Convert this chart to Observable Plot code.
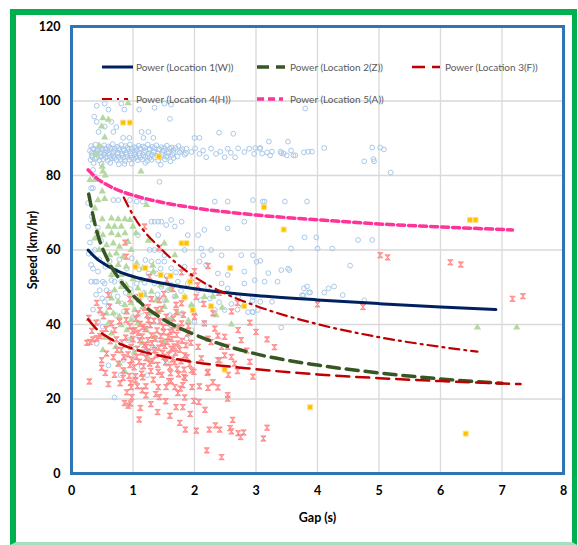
<!DOCTYPE html>
<html><head><meta charset="utf-8">
<script src="https://cdn.jsdelivr.net/npm/d3@7"></script>
<script src="https://cdn.jsdelivr.net/npm/@observablehq/plot@0.6"></script>
<style>
body{margin:0;background:#fff;}
#wrap{position:relative;width:578px;height:545px;overflow:hidden;background:#fff;}
#chart{position:absolute;left:0;top:0;}
#legend{position:absolute;left:0;top:0;pointer-events:none;}
#border{position:absolute;left:10px;top:9px;width:567px;height:536px;box-sizing:border-box;border:6px solid #00B050;border-right-width:5px;border-bottom:3px solid #A8E0BF;pointer-events:none;}
</style></head><body>
<div id="wrap"><div id="chart"></div><svg id="legend" width="578" height="545"></svg><div id="border"></div></div>
<script>
// ---- axis ticks ----
const xTicks = [0,1,2,3,4,5,6,7,8];
const yTicks = [0,20,40,60,80,100,120];

// ---- legend labels ----
const seriesNames = ["Power (Location 1(W))","Power (Location 2(Z))","Power (Location 3(F))","Power (Location 4(H))","Power (Location 5(A))"];

// ---- power trend lines (gap s, speed km/hr) ----
const trendWGap = [0.27,0.4,0.6,0.8,1,1.5,2,2.5,3,4,5,6,6.9];
const trendWSpeed = [60,57.8,55.6,54,52.9,51,49.6,48.6,47.8,46.6,45.6,44.7,44];
const trendZGap = [0.28,0.4,0.6,0.8,1,1.5,2,3,4,5,6,7];
const trendZSpeed = [75,65.7,57,51.7,47.8,41.3,37.3,32.1,29.1,27,25.4,24.2];
const trendFGap = [0.27,0.4,0.6,0.8,1,1.5,2,3,4,5,6,7.3];
const trendFSpeed = [41.4,38.9,36.5,34.7,33.5,31.4,29.9,28,26.6,25.6,24.8,24];
const trendHGap = [0.85,1,1.5,2,2.5,3,4,5,6,6.6];
const trendHSpeed = [74.1,69.4,59.6,52.8,48.3,45,40.1,36.6,34,32.7];
const trendAGap = [0.27,0.4,0.6,0.8,1,1.5,2,3,4,5,6,7.17];
const trendASpeed = [81.5,79.4,77.3,75.8,74.7,72.7,71.3,69.4,68.1,67,66.2,65.4];

// ---- observations [gap, speed] ----
const locA = [
[0.41,98.7],[0.54,99.3],[0.6,97.7],[0.81,99.3],[0.86,97.7],[1.1,97.7],[1.35,98.2],[1.51,99.3],[1.62,99],[1.6,95.2],[0.37,95.8],[0.41,94.4],[0.65,94.4],[0.54,93.1],[0.73,93],[0.44,91.7],[0.68,91.7],[0.84,90.1],[0.94,90.1],[1.14,91.7],[1.17,90.1],[1.25,91.7],[1.33,90.1],[2.0,90.1],[2.08,90.1],[2.4,91.5],[2.63,91.2],[0.86,83.1],[1.43,78.3],[3.8,98],[3.21,89.1],[3.52,89.1],[0.35,81.5],[0.38,79.7],[0.32,76.6],
[0.32,87.9],[0.39,88.3],[0.46,87.6],[0.53,88.1],[0.6,87.8],[0.67,88.4],[0.74,87.7],[0.81,88.2],[0.88,87.9],[0.95,88.3],[1.02,87.6],[1.09,88],[1.16,87.8],[1.24,88.3],[1.31,87.7],[1.38,88.1],[1.46,87.6],[1.55,88],[1.63,87.5],[1.74,87.9],
[0.35,87.3],[0.42,87.1],[0.49,87.4],[0.56,87.2],[0.63,87.5],[0.7,87.2],[0.77,87.4],[0.84,87.1],[0.91,87.5],[0.98,87.2],[1.05,87.4],[1.12,87.3],[1.19,87.5],[1.27,87.2],[1.35,87.4],[1.43,87.1],[1.51,87.4],[1.6,87.2],[1.69,87.4],[1.8,87.1],
[0.3,86.6],[0.36,87],[0.43,86.7],[0.5,86.9],[0.57,86.5],[0.64,87.1],[0.71,86.6],[0.78,86.9],[0.85,86.7],[0.92,87],[0.99,86.5],[1.06,86.8],[1.13,87.1],[1.2,86.6],[1.27,86.9],[1.34,86.5],[1.42,87],[1.5,86.7],[1.58,86.4],[1.66,86.9],[1.78,86.6],
[0.33,86.1],[0.4,86.3],[0.47,85.9],[0.54,86.2],[0.61,86],[0.68,86.3],[0.75,86.1],[0.82,85.9],[0.89,86.2],[0.96,86],[1.03,86.3],[1.1,86],[1.18,86.2],[1.25,85.9],[1.33,86.2],[1.4,86],[1.48,86.3],[1.57,85.9],[1.66,86.1],[1.76,86.2],[1.86,86],
[0.33,85.4],[0.4,85.7],[0.47,85.3],[0.54,85.6],[0.61,85.5],[0.68,85.2],[0.75,85.8],[0.82,85.4],[0.89,85.6],[0.96,85.3],[1.03,85.7],[1.1,85.4],[1.17,85.5],[1.24,85.2],[1.31,85.6],[1.39,85.3],[1.47,85.7],[1.56,85.2],[1.64,85.5],[1.72,85.1],[1.84,85.6],
[0.34,84.9],[0.41,84.7],[0.48,85],[0.56,84.8],[0.63,85],[0.7,84.7],[0.77,85],[0.84,84.8],[0.91,85],[0.98,84.7],[1.05,84.9],[1.12,84.8],[1.2,85],[1.27,84.7],[1.35,84.9],[1.44,84.8],[1.54,85],[1.66,84.7],
[0.31,84.2],[0.38,84.5],[0.45,84.1],[0.52,84.4],[0.59,84],[0.66,84.6],[0.73,84.2],[0.8,84.4],[0.87,83.9],[0.94,84.3],[1.01,84.5],[1.08,84.1],[1.15,84.3],[1.23,83.9],[1.3,84.2],[1.41,84],[1.52,84.3],[1.61,83.8],
[0.36,83.3],[0.49,83.1],[0.63,83.4],[0.77,83],[0.98,83.2],[1.2,83.4],[1.45,82.9],
[1.87,87.2],[1.95,86.3],[2.01,87.3],[2.08,85.8],[2.14,86.7],[2.19,84.9],[2.27,87.2],[2.35,85.8],[2.42,86.4],[2.49,84.9],[2.54,87.2],[2.59,86.1],[2.66,84.9],[2.71,87.3],[2.81,86.3],[2.89,87.2],[2.97,85.8],[3.06,87.2],
[2.99,87.4],[3.07,87.4],[3.1,85.9],[3.18,86.2],[3.23,85.4],[3.26,86.4],[3.4,86.4],[3.41,86],[3.45,85.9],[3.5,85.4],[3.57,86.7],[3.61,85.4],[3.64,85.4],[3.78,86.2],[3.85,86.4],[3.91,86.4],[4.11,87.4],[4.76,83.8],[4.89,87.5],[4.91,84.4],[4.92,83.8],[5.02,87.5],[5.08,87],[5.19,80.8]
];
const locW = [
[0.35,76.6],[0.68,73.4],[0.76,73.4],[0.95,73.4],[1.06,73],[1.16,73],[0.27,72.6],[0.27,66.3],[0.43,66],[1.3,67.6],[1.35,67.6],[1.41,67.6],[1.46,67.6],[1.62,68.1],[1.79,67.6],[1.54,66.7],[1.68,66.3],[1.08,64],[1.41,64],[1.89,64],[2.06,64],[2.16,65.4],[2.33,73],[2.54,73],[2.95,73.4],[2.81,67.6],[2.54,65.8],[1.27,60],[1.35,60],[1.43,60],[1.51,58.6],[1.84,60],[2.11,60.4],[2.27,60],[2.14,58.6],[2.44,58.6],[2.76,58.6],[2.95,58.6],[1.3,56.9],[1.41,56.9],[1.51,56.9],[1.25,53.7],[1.38,53.7],[1.62,55.1],[1.84,55.5],[2.08,56.9],[2.19,56],[2.38,53.7],[2.54,53.3],[2.81,54.2],[2.98,51.9],[0.43,54.2],[0.32,56],[0.38,51.5],[0.51,51.5],[0.65,51.9],
[0.32,51.5],[0.41,51.5],[0.54,51],[0.46,49.2],[0.57,49.2],[0.7,51.5],[0.81,51.5],[1.06,51],[1.19,51.2],[1.35,51],[1.46,50.1],[1.57,49.2],[1.62,50.6],[1.73,51.5],[1.89,51],[2.06,49.2],[2.22,50.1],[2.33,48.3],[2.44,51],[2.54,49.7],[2.71,47.4],[2.81,51],[2.95,47.4],[3.03,43.9],[2.49,43.9],[2.33,43.9],[2.16,40.3],[2.0,40.7],[1.95,38.5],[1.87,36.2],[1.62,39.8],[1.41,35.8],[1.25,34],[1.14,28.6],[1.03,33.5],[0.92,35.8],[0.54,46.1],[0.51,39.4],[0.43,40.7],[0.41,34.9],[0.81,45.7],[1.14,43.4],
[3.79,63.4],[3.98,63.4],[3.57,60.4],[4.0,60.4],[4.24,60.4],[4.66,62.7],[4.89,62.7],[3.01,56.8],[3.07,57.1],[3.41,54.6],[3.54,54.6],[4.53,55.8],[3.14,51.5],[3.35,51.5],[3.78,49.7],[3.83,50.2],[3.88,48.6],[4.11,48.6],[4.18,49.7],[4.27,50.2],[3.75,47.9],[4.41,47.9],[4.76,46.5],[2.94,46.4],[3.07,46.1],[3.26,46.1],[2.94,43.4],[3.41,39.2],
[3.11,73],[3.14,73],[3.47,73],[3.83,73],[0.7,20.4],[0.8,26.4],[1.23,26.4],[0.6,29],
[0.35,55],[0.45,57.5],[0.55,55.5],[0.62,57],[0.72,54.5],[0.78,57.5],[0.9,55],[0.98,57.8],[1.1,54.8],[1.2,57.3],[1.45,55],[1.55,53],[1.7,54],[0.4,48],[0.5,47],[0.62,48.5],[0.75,47.5],[0.88,48.5],[0.95,49.5],[1.05,47.5],[1.18,48.5],[1.28,47],[1.4,48],[1.52,46.5],[1.68,47.5],[1.78,49],[1.95,45],[2.1,46.5],[2.25,47],[2.4,46],[2.6,45.5],[2.7,44],[0.35,44],[0.48,43],[0.6,45],[0.72,42.5],[0.85,43.5],[1.0,42],[1.25,42],[1.45,41],[1.6,42.5],[1.8,43],[0.3,62],[0.38,60],[0.48,62.5],[0.33,69],[0.28,59],
[1.0,31],[1.2,32.5],[1.35,33.5],[1.5,31.5],[1.1,36.5],[0.85,30.5],[1.55,29.5],[2.87,43.3],[2.95,43.3],[3.2,53.8],[3.52,55],[3.77,47.8],[3.86,48.6]
];
const locZ = [
[0.92,99.4],[0.51,95.4],[0.6,95],[0.49,93.2],[0.54,90.2],[0.5,82.4],[0.51,81.1],[0.3,78.8],[1.13,81.1],[0.38,78.8],[0.45,88],[0.4,85.5],[0.55,80],
[0.5,75.7],[0.43,73.4],[0.54,73.7],[0.38,71.2],[1.22,72.1],[0.5,68.3],[0.65,68.5],[0.76,68.3],[0.87,68.3],[0.95,68.1],[0.6,66.3],[0.7,66.3],[0.81,66.3],[1.0,66.3],[0.38,63.1],[0.51,64],[0.65,64.5],[0.76,64],[0.87,64.5],[0.57,61.3],[0.68,61.8],[0.78,60.9],[0.92,62.2],[0.62,58.6],[0.73,59.1],[0.84,58.2],[0.97,60],[1.68,58.6],[0.6,56],[0.76,56],[0.89,55.5],[1.06,56.4],[1.16,55.1],[0.65,53.3],[0.81,53.3],[1.33,54.2],[1.0,52.2],[1.14,51.9],[1.51,61.8],
[0.7,49.2],[0.81,50.1],[0.89,50.6],[0.95,48.3],[1.08,49.7],[1.19,47.9],[1.3,48.8],[1.38,46.5],[0.65,47],[0.76,46.1],[0.87,45.2],[0.97,45.7],[1.03,43.9],[0.57,43],[0.68,43],[0.78,42.1],[0.89,43.4],[1.16,44.7],[1.27,43],[1.41,43.4],[1.51,44.7],[1.7,47.6],[1.84,47.4],[1.73,43],[0.97,41.2],[1.08,40.3],[0.81,39.8],[1.22,38.5],[0.6,40.3],[1.35,36.7],[1.73,39.4],[2.0,43],[2.16,47.4],[0.65,37.6],[0.97,36.2],[0.78,29.5],[0.87,27.3],[0.51,33.1],[1.54,46.5],[1.95,45.2],
[1.32,55.8],[1.45,50.5],[1.6,49.5],[1.1,46.5],[0.9,38.5],[1.15,35],[0.55,36.5],[2.35,42.5],[2.6,40],[1.25,62.5],[1.05,64.5],[0.45,60],[0.42,65],[0.35,68],[2.3,47.5],[2.45,44.5],[0.72,34],[1.02,32.5],[1.25,30.8],[1.5,35.5],[1.62,41.5],[1.9,41],[2.79,45.1],
[6.6,39.2],[7.24,39.2]
];
const locF = [
[0.84,25.7],[0.96,24.3],[0.97,23.2],[1.04,26.1],[1.07,23.4],[0.9,21.8],[0.86,18.9],[0.92,18.2],[0.96,18.8],[1.12,17.6],[1.15,22.3],[1.21,23.4],[1.21,21],[1.29,18.6],[1.37,21.3],[1.43,20.5],[1.41,23.2],[1.53,19.4],[1.54,23.2],[1.62,24.8],[1.68,23.2],[1.73,21.6],[1.77,22.8],[1.81,23.7],[1.84,20.4],[1.7,17.8],[1.81,17.8],[1.83,25.9],[1.96,23.2],[2.08,23.4],[1.99,19.5],[2.07,19.2],[1.93,16],[2.17,17.1],[1.76,13.6],[1.85,11.8],[2.03,11.5],[2.24,11.8],[2.34,12.9],[2.41,11.8],[2.2,6.2],[2.44,4.4],[2.54,21],[2.54,20.1],[2.62,14.4],[2.58,12.2],[2.6,11.3],[2.71,10.8],[2.75,9.8],[2.8,11],[3.12,9.4],[3.18,12.3],[1.99,27.3],[2.21,27],[1.74,26.6],
[0.25,35.1],[0.3,35.3],[0.35,36],[0.41,36.3],[0.46,36.9],[0.5,37.6],[0.41,45.8],[0.46,43.9],[0.49,30.4],[0.49,28.4],[0.57,32.2],[0.6,47.9],[0.65,40.3],[0.7,38.5],[0.73,36],[0.76,29.5],[0.81,33.1],[0.84,27.7],[0.89,41.2],[0.95,29.1],[0.97,34],[1.03,38.5],[1.06,31.3],[1.08,43],[1.11,35.8],[1.14,26.8],[1.16,39.4],[1.22,34],[1.25,41.2],[1.27,29.5],[1.3,37.1],[1.35,33.1],[1.38,43.9],[1.41,27.3],[1.43,46.5],[1.46,34.9],[1.49,39.4],[1.51,31.3],[1.54,42.1],[1.57,36.7],[1.6,28.6],[1.62,33.5],[1.65,38.5],[1.68,29.9],[1.7,43.4],[1.73,34.9],[1.79,40.3],[1.84,31.7],[1.89,37.6],[1.95,27.7],[2.0,42.1],[2.06,34],[2.11,30.9],[2.16,40.3],[2.22,36.2],[2.27,35.3],[2.33,38.9],[2.38,30.4],[2.44,34],[2.49,36.7],[2.54,34],[2.6,31.3],[2.65,29.5],[2.71,38.5],[2.76,35.8],[2.22,27.3],[2.41,30.4],[2.03,47.4],[1.79,45.7],[1.25,44.7],
[0.87,62],[1.19,66.3],[0.89,58.2],[1.43,60.6],[2.22,55.7],[2.0,54.3],[1.27,52.8],[1.79,54],[5.02,58.6],[5.14,58],[6.16,56.7],[6.33,56.1],[7.17,46.9],[7.34,47.6],[4.0,45.4],[4.74,44.7],[3.18,36],
[2.38,37],[2.49,31.7],[2.22,23],[2.38,23.1],[3.3,33.9],[2.9,30],[2.95,26],[0.29,24.7],
[0.88,36.5],[0.92,32],[0.95,39.5],[0.98,30.5],[1.0,36],[1.02,28.5],[1.05,41.5],[1.07,33.5],[1.09,37.8],[1.1,30],[1.12,40.2],[1.13,32.5],[1.15,36.8],[1.17,28.8],[1.18,34.5],[1.2,38.8],[1.21,31],[1.23,42.5],[1.24,35.8],[1.26,32.6],[1.28,39.8],[1.29,27.5],[1.31,35],[1.32,30.2],[1.34,41],[1.36,36.2],[1.37,31.8],[1.39,38.4],[1.4,29.2],[1.42,33.8],[1.44,40.8],[1.45,36.9],[1.47,26.5],[1.48,32.3],[1.5,37.9],[1.52,34.2],[1.53,29.8],[1.55,40.4],[1.56,35.3],[1.58,31.9],[1.6,38.1],[1.61,26.9],[1.63,36.1],[1.64,30.6],[1.66,41.6],[1.67,34.1],[1.69,32.4],[1.71,37.2],[1.72,28.1],[1.74,39.1],[1.76,33.2],[1.78,30.1],[1.8,35.6],[1.82,42.6],[1.83,27.9],[1.86,34.4],[1.88,31.2],[1.9,39.6],[1.92,29.4],[1.94,35.1],
[0.82,35.2],[0.85,31.2],[0.9,43.5],[0.94,26.2],[0.99,38.2],[1.04,25.1],[1.16,25.8],[1.19,44.5],[1.33,25.2],[1.46,44.2],[1.58,24.8],[1.7,45.3],[1.85,25.6],[0.78,40.8],[0.74,33.2],[0.68,31.2],[0.63,35.5],[0.56,38.8],[0.52,42.2],[0.62,44.8],[0.7,26.5],[0.79,24.2],[1.3,46.8],[1.1,47.3],[0.95,46.8],[1.5,48.2],[1.65,49.5],[2.15,45.5],[2.3,43],[2.4,48.5],[2.05,50.5],[1.95,52.5],[1.55,52],[2.6,43.5],[2.7,45.8],[2.9,40.5],[3.0,38],[2.85,33],[2.55,26.5],[2.7,27.5],[2.3,24.5],[1.4,16.5],[1.1,14.5],[0.98,20.5],[1.6,15.5],[0.6,24],[0.4,40.5],[0.33,38.3],[0.28,41.8],[0.55,27]
];
const locH = [
[0.84,94.2],[0.95,94.2],[1.42,85.1],[1.79,61.8],[1.87,61.8],[1.04,55.5],[1.2,55.2],[1.45,53.3],[1.61,53.1],[1.93,51.5],[2.58,55.2],[1.13,47.9],[1.84,47.3],[2.27,44.9],[2.81,44.9],[1.97,43.9],[2.49,27.9],[3.13,71.5],[3.45,65.5],[6.48,68.1],[6.57,68.1],[3.88,17.8],[6.41,10.7]
];

// ---- styles ----
const trendStyles = [
  {gap: trendWGap, speed: trendWSpeed, stroke: "#002060", width: 3, dash: null},
  {gap: trendZGap, speed: trendZSpeed, stroke: "#375623", width: 3.5, dash: "12 7"},
  {gap: trendFGap, speed: trendFSpeed, stroke: "#C00000", width: 2.5, dash: "13 7"},
  {gap: trendHGap, speed: trendHSpeed, stroke: "#C00000", width: 2.2, dash: "10 5 2 5"},
  {gap: trendAGap, speed: trendASpeed, stroke: "#FF3399", width: 3.5, dash: "7 4"}
];

const hourglass = {draw(ctx, size) {const s = Math.sqrt(size) / 2; ctx.moveTo(-s, -s); ctx.lineTo(s, -s); ctx.lineTo(-s, s); ctx.lineTo(s, s); ctx.closePath();}};
const gx = d => d[0], gy = d => d[1];

const lineMarks = trendStyles.map(t => Plot.line(t.gap.map((g, i) => ({gap: g, speed: t.speed[i]})), {
  x: "gap", y: "speed", stroke: t.stroke, strokeWidth: t.width, strokeDasharray: t.dash, curve: "monotone-x"
}));

const chart = Plot.plot({
  width: 578, height: 545,
  marginLeft: 71, marginRight: 15, marginTop: 26, marginBottom: 72,
  style: {fontFamily: "Lato, 'Open Sans', sans-serif", fontSize: "13px", fontWeight: "bold", color: "#000", background: "transparent"},
  x: {domain: [0, 8]},
  y: {domain: [0, 120]},
  marks: [
    Plot.gridX(xTicks, {stroke: "#D9D9D9", strokeOpacity: 1, strokeWidth: 1.3}),
    Plot.gridY(yTicks, {stroke: "#D9D9D9", strokeOpacity: 1, strokeWidth: 1.3}),
    Plot.axisX({ticks: xTicks, tickSize: 0, tickPadding: 13, label: "Gap (s)", labelAnchor: "center", labelOffset: 48, labelArrow: "none", fontSize: 12.5}),
    Plot.axisY({ticks: yTicks, tickSize: 0, tickPadding: 11, label: "Speed (km/hr)", labelAnchor: "center", labelOffset: 43, labelArrow: "none", fontSize: 12.5}),
    Plot.dot(locA, {x: gx, y: gy, r: 2.4, stroke: "#A9C8EA", strokeWidth: 1, fill: "none"}),
    Plot.dot(locW, {x: gx, y: gy, r: 2.4, stroke: "#A9C8EA", strokeWidth: 1, fill: "none"}),
    Plot.dot(locZ, {x: gx, y: gy, r: 2.7, symbol: "triangle", fill: "#B5D8A0", stroke: "none"}),
    Plot.dot(locF, {x: gx, y: gy, r: 3, symbol: hourglass, fill: "#FFA3A3", stroke: "#FF7575", strokeWidth: 0.7}),
    Plot.dot(locH, {x: gx, y: gy, r: 2.8, symbol: "square", fill: "#FFC000", stroke: "#FFE08A", strokeWidth: 1}),
    ...lineMarks,
    Plot.frame({stroke: "#2E75B6", strokeWidth: 3})
  ]
});
document.getElementById("chart").appendChild(chart);

// ---- legend ----
const legendPos = [[102, 133, 136, 67], [257, 285, 290, 67], [412, 440, 445, 67], [102, 128, 136, 99], [257, 283, 290, 99]];
const lg = d3.select("#legend");
seriesNames.forEach((name, i) => {
  const [x1, x2, tx, y] = legendPos[i];
  const t = trendStyles[i];
  lg.append("line").attr("x1", x1).attr("x2", x2).attr("y1", y).attr("y2", y)
    .attr("stroke", t.stroke).attr("stroke-width", t.width).attr("stroke-dasharray", t.dash);
  lg.append("text").attr("x", tx).attr("y", y).attr("dy", "0.35em")
    .attr("font-family", "Lato, 'Open Sans', sans-serif").attr("font-size", "10px").attr("fill", "#595959").text(name);
});
</script>
</body></html>
